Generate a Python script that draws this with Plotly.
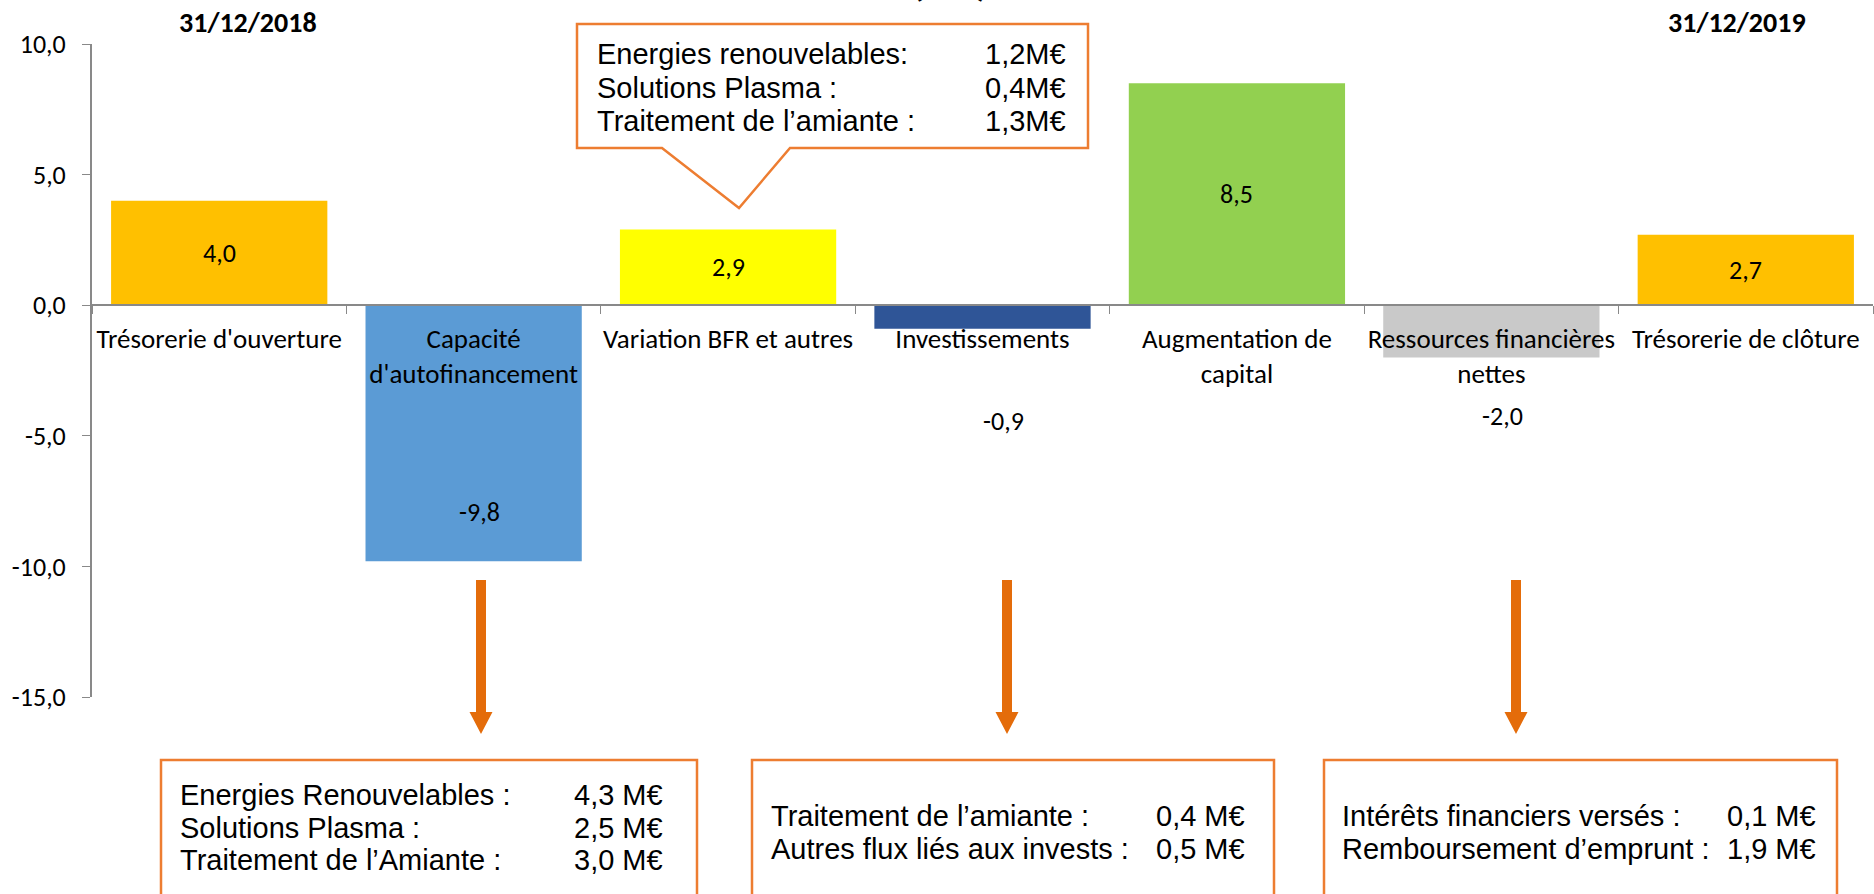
import plotly.graph_objects as go

# ---------------- data ----------------
categories = ["Trésorerie d'ouverture", "Capacité<br>d'autofinancement", "Variation BFR et autres",
              "Investissements", "Augmentation de<br>capital", "Ressources financières<br>nettes",
              "Trésorerie de clôture"]
values = [4.0, -9.8, 2.9, -0.9, 8.5, -2.0, 2.7]
value_labels = ["4,0", "-9,8", "2,9", "-0,9", "8,5", "-2,0", "2,7"]
bar_colors = ["#FFC000", "#5B9BD5", "#FFFF00", "#2F5597", "#92D050", "#C9C9C9", "#FFC000"]

y_tickvals = [-15, -10, -5, 0, 5, 10]
y_ticktext = ["-15,0", "-10,0", "-5,0", "0,0", "5,0", "10,0"]

date_labels = ["31/12/2018", "31/12/2019"]
title_text = "(M€)"

bfr_detail_labels = ["Energies renouvelables:", "Solutions Plasma :", "Traitement de l’amiante :"]
bfr_detail_values = ["1,2M€", "0,4M€", "1,3M€"]
caf_detail_labels = ["Energies Renouvelables :", "Solutions Plasma :", "Traitement de l’Amiante :"]
caf_detail_values = ["4,3 M€", "2,5 M€", "3,0 M€"]
inv_detail_labels = ["Traitement de l’amiante :", "Autres flux liés aux invests :"]
inv_detail_values = ["0,4 M€", "0,5 M€"]
fin_detail_labels = ["Intérêts financiers versés :", "Remboursement d’emprunt :"]
fin_detail_values = ["0,1 M€", "1,9 M€"]

# ---------------- geometry / style ----------------
W, H = 1874, 894
ML, MR, MT, MB = 92, 1, 44, 197
PW = W - ML - MR
PH = H - MT - MB
Y_MIN, Y_MAX = -15, 10

def px(x):
    return (x - ML) / PW

def py(y):
    return (H - MB - y) / PH

CAL = "Carlito, Calibri, Lato, sans-serif"
ARI = "Liberation Sans, Arial, sans-serif"
ORANGE_LINE = "#ED7D31"
ORANGE_ARROW = "#E46C0A"
AXIS_GRAY = "#898989"

# data label placement (centered in bar unless moved)
label_y_override = {1: -7.9, 3: -4.43, 5: -4.25}
label_xshift = {1: 6, 3: 21, 5: 11}

fig = go.Figure()
fig.add_trace(go.Bar(x=categories, y=values, marker=dict(color=bar_colors, line=dict(width=0)),
                     hoverinfo="skip"))

annotations = []
for i, (c, v, t) in enumerate(zip(categories, values, value_labels)):
    ly = label_y_override.get(i, v / 2)
    annotations.append(dict(x=c, y=ly, xref="x", yref="y", text=t, showarrow=False,
                            xshift=label_xshift.get(i, 0),
                            font=dict(family=CAL, size=26, color="black")))

# date headers
for txt, cx in zip(date_labels, [248, 1737]):
    annotations.append(dict(x=px(cx), y=py(22), xref="paper", yref="paper", text=f"<b>{txt}</b>",
                            showarrow=False, xanchor="center", yanchor="middle",
                            font=dict(family=CAL, size=28, color="black")))

# partially visible title (cut by the top edge, as in the original)
annotations.append(dict(x=px(950), y=py(-17), xref="paper", yref="paper", text=f"<b>{title_text}</b>",
                        showarrow=False, xanchor="center", yanchor="middle",
                        font=dict(family=CAL, size=38, color="black")))

def add_box_text(labels, vals, x_left, x_right, ys, size=29):
    for lab, val, yy in zip(labels, vals, ys):
        annotations.append(dict(x=px(x_left), y=py(yy), xref="paper", yref="paper", text=lab,
                                showarrow=False, xanchor="left", yanchor="middle",
                                font=dict(family=ARI, size=size, color="black")))
        annotations.append(dict(x=px(x_right), y=py(yy), xref="paper", yref="paper", text=val,
                                showarrow=False, xanchor="right", yanchor="middle",
                                font=dict(family=ARI, size=size, color="black")))

add_box_text(bfr_detail_labels, bfr_detail_values, 595, 1068, [54, 87.5, 121])
add_box_text(caf_detail_labels, caf_detail_values, 178, 665, [795, 827.5, 860])
add_box_text(inv_detail_labels, inv_detail_values, 769, 1247, [816, 849])
add_box_text(fin_detail_labels, fin_detail_values, 1340, 1818, [816, 849])

shapes = []

def path_of(points):
    return "M " + " L ".join(f"{px(x):.5f},{py(y):.5f}" for x, y in points) + " Z"

# callout with pointer
shapes.append(dict(type="path", xref="paper", yref="paper",
                   path=path_of([(577, 24), (1088, 24), (1088, 148), (790, 148), (739, 208),
                                 (662, 148), (577, 148)]),
                   line=dict(color=ORANGE_LINE, width=2.5), fillcolor="white"))

# bottom boxes
for x0, x1 in [(161, 697), (752, 1274), (1324, 1837)]:
    shapes.append(dict(type="rect", xref="paper", yref="paper", x0=px(x0), x1=px(x1),
                       y0=py(760), y1=py(910), line=dict(color=ORANGE_LINE, width=2.5)))

# arrows
for cx in [481, 1007, 1516]:
    shapes.append(dict(type="path", xref="paper", yref="paper",
                       path=path_of([(cx - 5, 580), (cx + 5, 580), (cx + 5, 712), (cx + 11.5, 712),
                                     (cx, 734), (cx - 11.5, 712), (cx - 5, 712)]),
                       line=dict(width=0), fillcolor=ORANGE_ARROW))

fig.update_layout(
    width=W, height=H, autosize=False,
    margin=dict(l=ML, r=MR, t=MT, b=MB, pad=0),
    paper_bgcolor="white", plot_bgcolor="white",
    showlegend=False, bargap=0.15,
    annotations=annotations, shapes=shapes,
    xaxis=dict(anchor="free", position=(0 - Y_MIN) / (Y_MAX - Y_MIN),
               showline=True, linecolor=AXIS_GRAY, linewidth=2,
               ticks="outside", tickson="boundaries", ticklen=8, tickcolor=AXIS_GRAY, tickwidth=1,
               showgrid=False, zeroline=False, ticklabelstandoff=9, tickangle=0, automargin=False,
               tickfont=dict(family=CAL, size=27, color="black")),
    yaxis=dict(range=[Y_MIN, Y_MAX], tickvals=y_tickvals, ticktext=y_ticktext,
               showline=True, linecolor=AXIS_GRAY, linewidth=2,
               ticks="outside", ticklen=8, tickcolor=AXIS_GRAY, tickwidth=1,
               showgrid=False, zeroline=False, ticklabelstandoff=11, automargin=False,
               tickfont=dict(family=CAL, size=26, color="black")),
)

fig.write_html("out.html", config={"displayModeBar": False},
               post_script="document.body.style.margin='0';")
